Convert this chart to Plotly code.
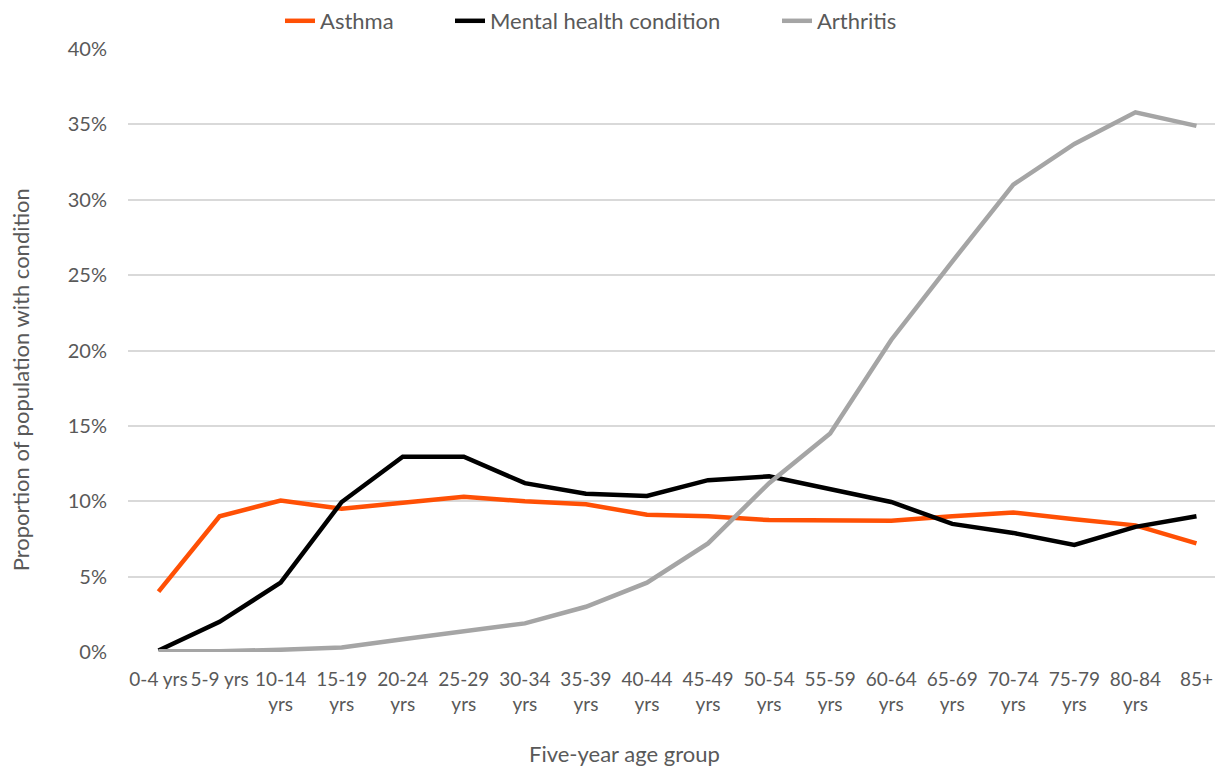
import plotly.graph_objects as go

age_groups = ["0-4 yrs", "5-9 yrs", "10-14<br>yrs", "15-19<br>yrs", "20-24<br>yrs", "25-29<br>yrs",
              "30-34<br>yrs", "35-39<br>yrs", "40-44<br>yrs", "45-49<br>yrs", "50-54<br>yrs",
              "55-59<br>yrs", "60-64<br>yrs", "65-69<br>yrs", "70-74<br>yrs", "75-79<br>yrs",
              "80-84<br>yrs", "85+"]

asthma = [4.0, 9.0, 10.05, 9.5, 9.9, 10.3, 10.0, 9.8, 9.1, 9.0, 8.75, 8.7, 8.7, 9.0, 9.25, 8.8, 8.4, 7.2]
mental_health = [0.1, 2.0, 4.6, 9.95, 12.95, 12.95, 11.2, 10.5, 10.35, 11.4, 11.65, 10.8, 9.95, 8.5, 7.9, 7.1, 8.3, 9.0]
arthritis = [0.05, 0.05, 0.15, 0.3, 0.85, 1.4, 1.9, 3.0, 4.6, 7.2, 11.2, 14.5, 20.7, 25.9, 31.0, 33.7, 35.8, 34.9]

y_ticks = [0, 5, 10, 15, 20, 25, 30, 35, 40]
y_labels = [f"{v}%" for v in y_ticks]

FONT = "Lato, Calibri, sans-serif"
TEXT_GREY = "#595959"
W, H = 1219, 759

fig = go.Figure()

series = [("Asthma", asthma, "#FF5005", "legend", 272),
          ("Mental health condition", mental_health, "#000000", "legend2", 442),
          ("Arthritis", arthritis, "#A5A5A5", "legend3", 769)]

legends = {}
for name, vals, colour, leg, left_px in series:
    fig.add_trace(go.Scatter(
        x=age_groups,
        y=vals,
        name=name,
        mode="lines",
        line=dict(color=colour, width=4.5),
        legend=leg,
        showlegend=True,
    ))
    legends[leg] = dict(
        orientation="h",
        x=left_px / W, xref="container", xanchor="left",
        y=1 - 13 / H, yref="container", yanchor="middle",
        font=dict(size=22, color=TEXT_GREY),
        bgcolor="rgba(0,0,0,0)",
    )

fig.update_layout(
    width=W,
    height=H,
    margin=dict(t=41, b=115, l=120, r=0, autoexpand=False),
    plot_bgcolor="white",
    paper_bgcolor="white",
    showlegend=True,
    font=dict(family=FONT, color=TEXT_GREY, size=19),
    **legends,
)

fig.update_xaxes(
    showgrid=False,
    showline=False,
    ticks="",
    tickfont=dict(size=19),
    ticklabelstandoff=14,
    range=[-0.5, 17.5],
)

fig.update_yaxes(
    range=[0, 40],
    tickvals=y_ticks,
    ticktext=y_labels,
    gridcolor="#D9D9D9",
    gridwidth=1.5,
    zeroline=False,
    showline=False,
    ticklabelstandoff=20,
    tickfont=dict(size=20),
)

# axis titles sit off-centre in the original, so place them as annotations
fig.add_annotation(text="Five-year age group", xref="paper", yref="paper",
                   x=0.452, y=-0.169, xanchor="center", yanchor="middle",
                   showarrow=False, font=dict(size=22))
fig.add_annotation(text="Proportion of population with condition", xref="paper", yref="paper",
                   x=-0.098, y=0.451, xanchor="center", yanchor="middle", textangle=-90,
                   showarrow=False, font=dict(size=22))

fig.write_html("out.html")
